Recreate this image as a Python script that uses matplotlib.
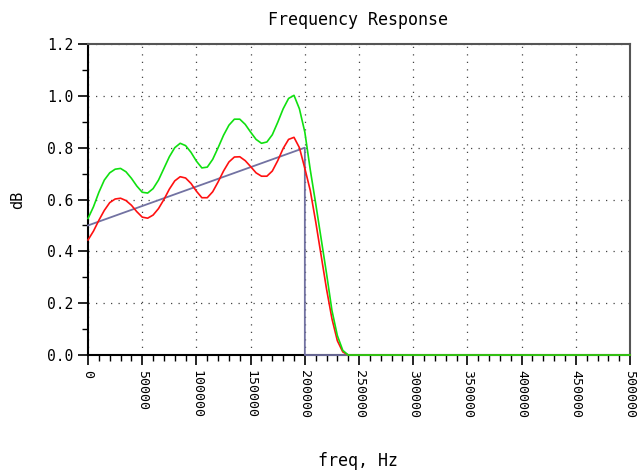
import numpy as np
from matplotlib import pyplot as plt
from matplotlib.ticker import MultipleLocator

# frequency grid (Hz)
freq = [0, 5000, 10000, 15000, 20000, 25000, 30000, 35000, 40000, 45000,
        50000, 55000, 60000, 65000, 70000, 75000, 80000, 85000, 90000, 95000,
        100000, 105000, 110000, 115000, 120000, 125000, 130000, 135000, 140000, 145000,
        150000, 155000, 160000, 165000, 170000, 175000, 180000, 185000, 190000, 195000,
        200000, 205000, 210000, 215000, 220000, 225000, 230000, 235000, 240000, 245000,
        250000, 500000]

green = [0.527, 0.572, 0.628, 0.675, 0.703, 0.717, 0.720, 0.707, 0.682, 0.652,
         0.628, 0.625, 0.642, 0.675, 0.720, 0.765, 0.800, 0.817, 0.808, 0.782,
         0.748, 0.722, 0.725, 0.755, 0.800, 0.848, 0.887, 0.910, 0.910, 0.890,
         0.860, 0.832, 0.817, 0.822, 0.850, 0.898, 0.950, 0.990, 1.002, 0.950,
         0.860, 0.715, 0.585, 0.450, 0.315, 0.172, 0.075, 0.018, 0.0, 0.0,
         0.0, 0.0]

red = [0.444, 0.478, 0.520, 0.558, 0.588, 0.602, 0.605, 0.596, 0.578, 0.553,
       0.532, 0.528, 0.540, 0.565, 0.600, 0.640, 0.672, 0.688, 0.683, 0.662,
       0.632, 0.607, 0.607, 0.630, 0.668, 0.710, 0.745, 0.764, 0.765, 0.750,
       0.727, 0.703, 0.690, 0.690, 0.710, 0.750, 0.797, 0.832, 0.840, 0.800,
       0.720, 0.635, 0.515, 0.385, 0.255, 0.140, 0.055, 0.012, 0.0, 0.0,
       0.0, 0.0]

# ideal response
ideal_f = [0, 200000, 200000, 500000]
ideal_v = [0.5, 0.8, 0.0, 0.0]

mono = 'DejaVu Sans Mono'

fig = plt.figure(figsize=(6.38, 4.75), dpi=100)
ax = fig.add_axes([0.138, 0.2526, 0.8495, 0.6547])

ax.plot(ideal_f, ideal_v, color='#7272a2', linewidth=1.3, clip_on=False, zorder=3)
ax.plot(freq, red, color='#ff1010', linewidth=1.2, clip_on=False, zorder=4)
ax.plot(freq, green, color='#10e010', linewidth=1.2, clip_on=False, zorder=5)

ax.set_xlim(0, 500000)
ax.set_ylim(0, 1.2)
ax.xaxis.set_major_locator(MultipleLocator(50000))
ax.xaxis.set_minor_locator(MultipleLocator(10000))
ax.yaxis.set_major_locator(MultipleLocator(0.2))
ax.yaxis.set_minor_locator(MultipleLocator(0.1))

ax.grid(True, which='major', color='#444444', linestyle=(0, (1, 5)), linewidth=0.9)

ax.tick_params(which='major', direction='out', length=7, width=1.2, color='black')
ax.tick_params(which='minor', direction='out', length=4, width=1.0, color='black')
ax.tick_params(axis='x', which='both', top=False)
ax.tick_params(axis='y', which='both', right=False)

xt = np.arange(0, 500001, 50000)
ax.set_xticks(xt)
ax.set_xticklabels([str(v) for v in xt], rotation=270, family=mono, fontsize=9.5,
                   va='top', ha='center')
yt = np.arange(0, 1.21, 0.2)
ax.set_yticks(yt)
ax.set_yticklabels(['%.1f' % v for v in yt], family=mono, fontsize=10.5)

for s in ['left', 'bottom']:
    ax.spines[s].set_color('black')
    ax.spines[s].set_linewidth(1.5)
for s in ['top', 'right']:
    ax.spines[s].set_color('#555555')
    ax.spines[s].set_linewidth(1.5)

fig.text(0.561, 0.958, 'Frequency Response', family=mono, fontsize=12,
         ha='center', va='center')
fig.text(0.561, 0.03, 'freq, Hz', family=mono, fontsize=12,
         ha='center', va='center')
fig.text(0.028, 0.58, 'dB', family=mono, fontsize=11, rotation=90,
         ha='center', va='center')

fig.savefig('out.png', dpi=100)
